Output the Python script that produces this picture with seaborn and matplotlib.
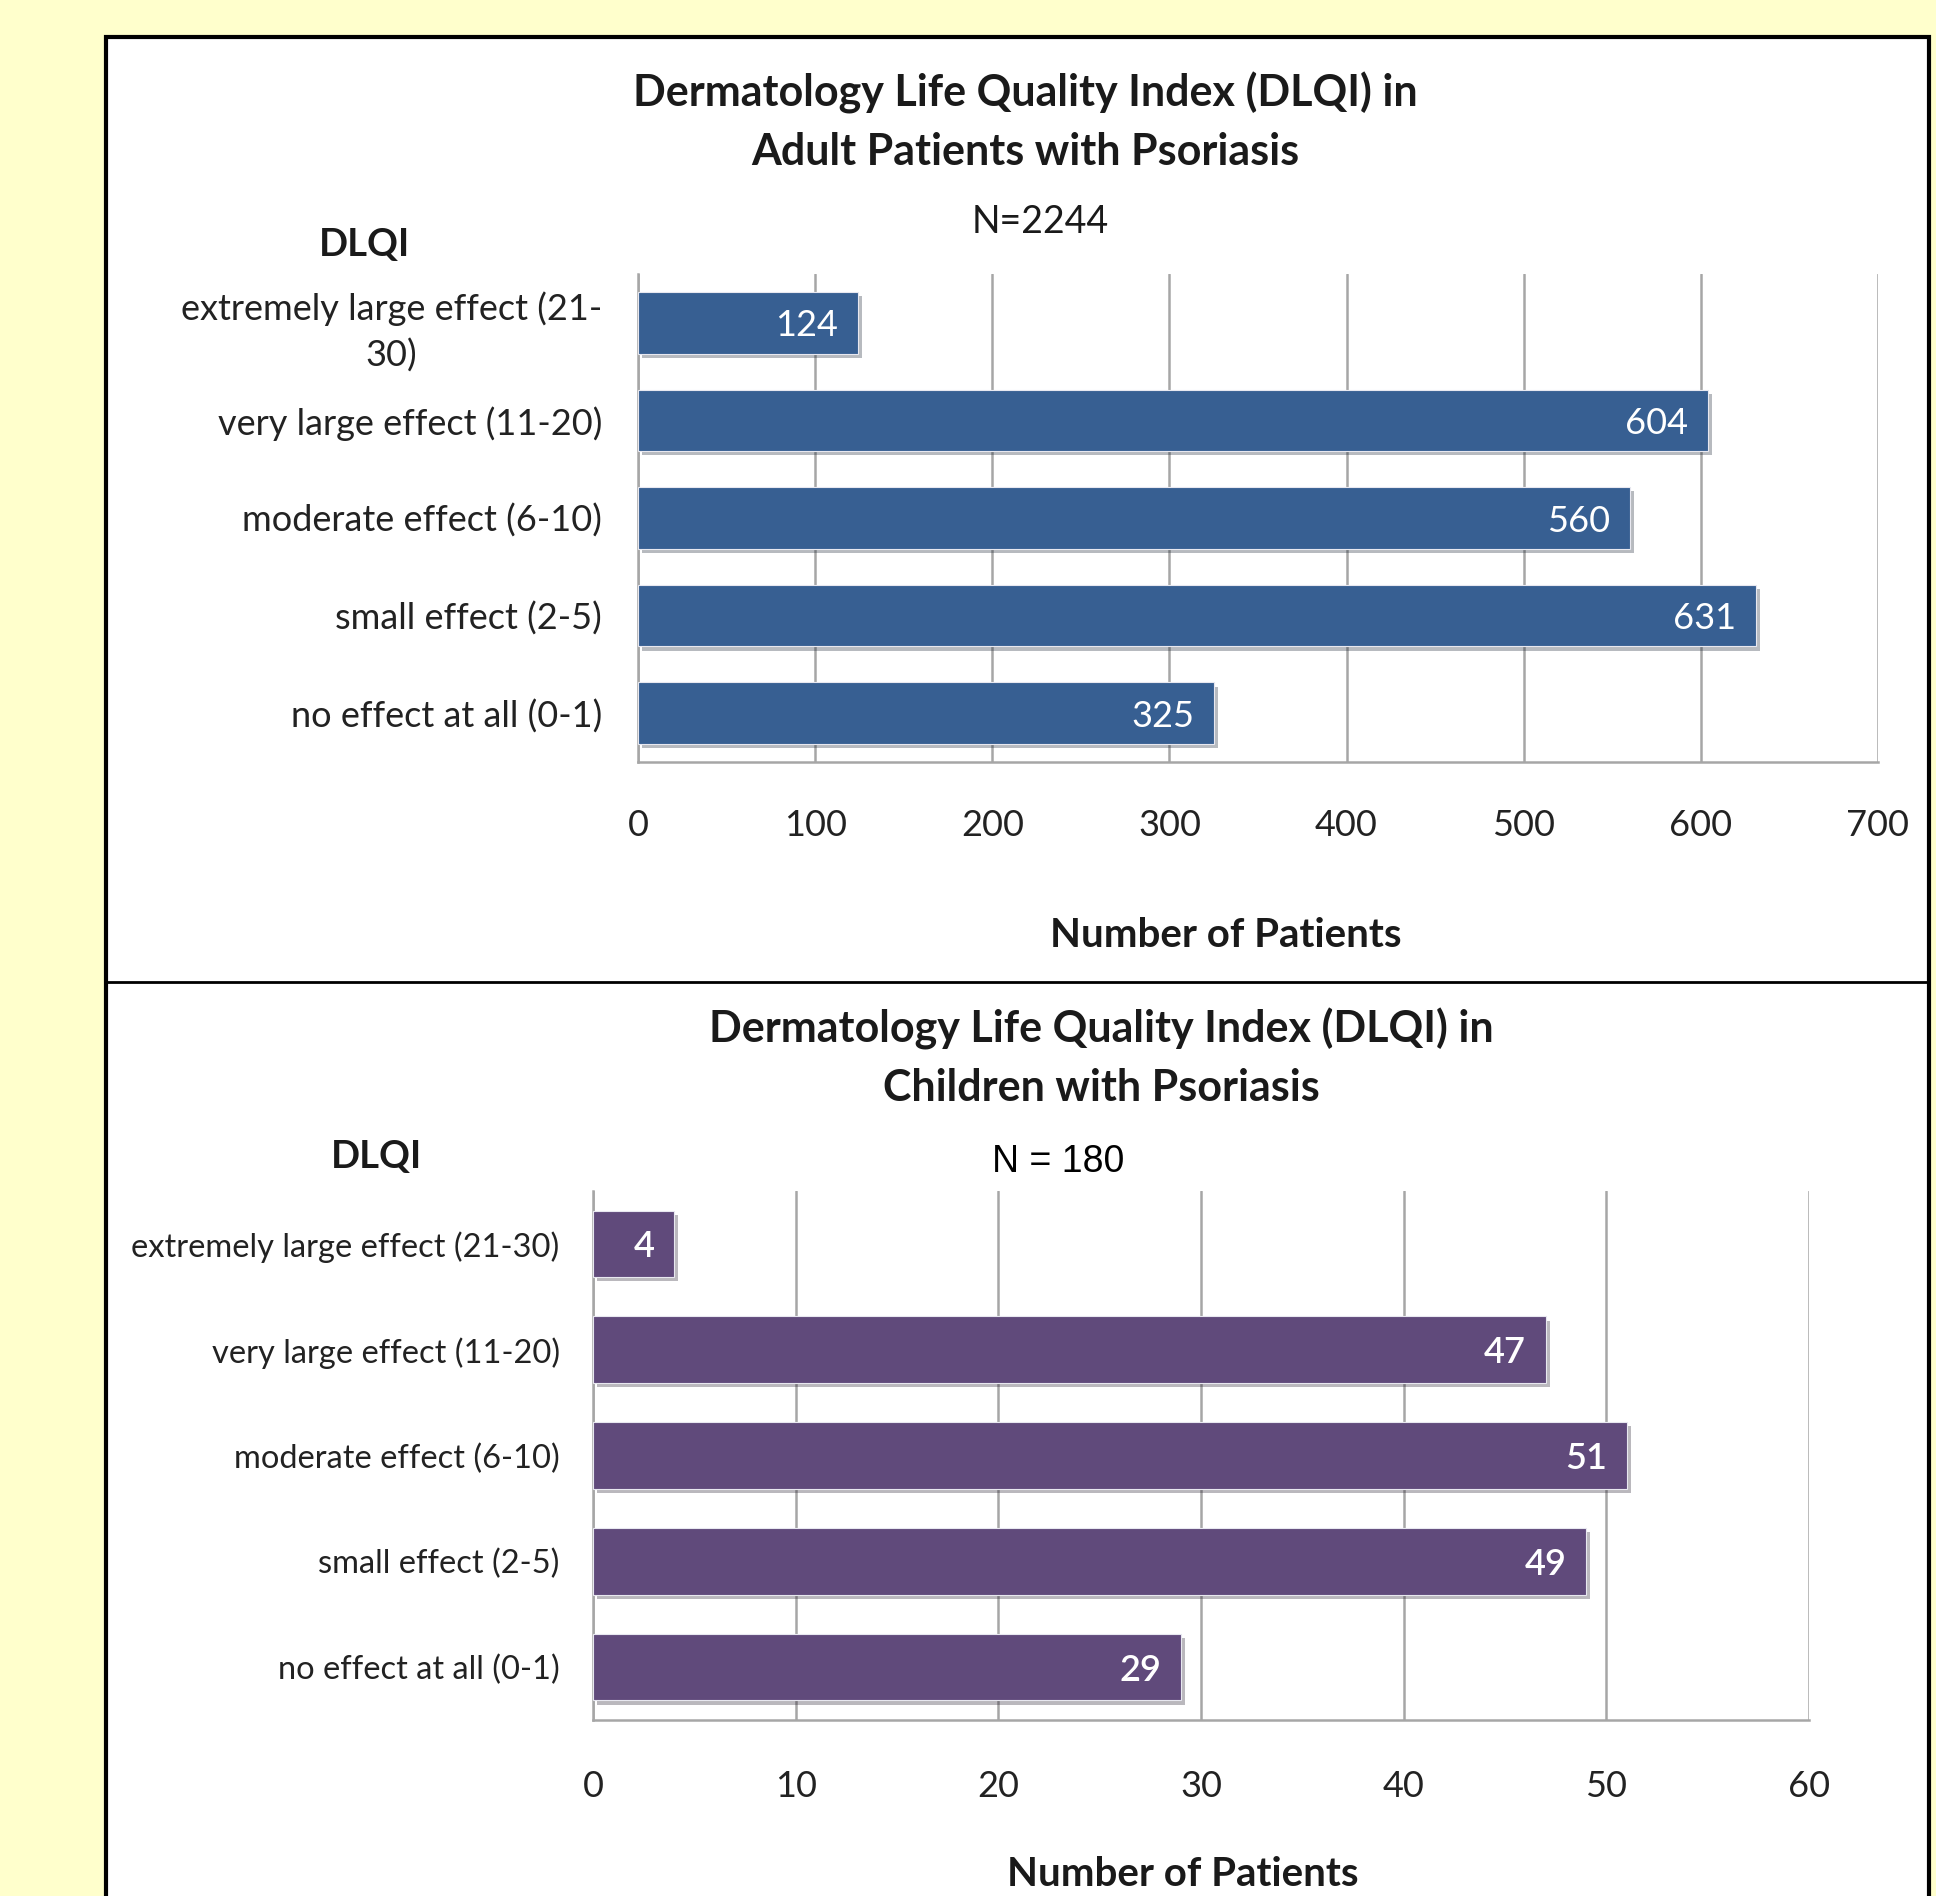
import matplotlib
matplotlib.use("Agg")
import matplotlib.pyplot as plt
import matplotlib.patheffects as pe
from matplotlib.patches import Rectangle
import seaborn as sns

# data
categories_adult = ["extremely large effect (21-\n30)", "very large effect (11-20)",
                    "moderate effect (6-10)", "small effect (2-5)", "no effect at all (0-1)"]
patients_adult = [124, 604, 560, 631, 325]
categories_child = ["extremely large effect (21-30)", "very large effect (11-20)",
                    "moderate effect (6-10)", "small effect (2-5)", "no effect at all (0-1)"]
patients_child = [4, 47, 51, 49, 29]
ticks_adult = [0, 100, 200, 300, 400, 500, 600, 700]
ticks_child = [0, 10, 20, 30, 40, 50, 60]

sns.set_style("white")
plt.rcParams["font.family"] = ["Lato", "DejaVu Sans"]

W, H = 1936, 1896
fig = plt.figure(figsize=(W / 100, H / 100), dpi=100, facecolor="#FFFFCC")


def px_rect(left, top, right, bottom):
    return [left / W, 1 - bottom / H, (right - left) / W, (bottom - top) / H]


# white panel with black frame and divider
fig.patches.append(Rectangle((106 / W, -0.01), (1929 - 106) / W, 1.01 - 37 / H,
                             transform=fig.transFigure, facecolor="white",
                             edgecolor="black", linewidth=3, zorder=-5))
fig.add_artist(plt.Line2D([106 / W, 1929 / W], [1 - 982 / H] * 2,
                          transform=fig.transFigure, color="black", linewidth=2))

shadow = [pe.SimplePatchShadow(offset=(3, -3), alpha=0.3), pe.Normal()]


def draw_panel(rect, cats, vals, ticks, color, ylab_size, xlab_size, val_size,
               ylab_pad, xlab_pad, val_weight):
    ax = fig.add_axes(rect)
    ax.set_facecolor("none")
    sns.barplot(x=vals, y=cats, orient="h", color=color, width=0.63,
                saturation=1, ax=ax, zorder=3)
    for bar in ax.patches:
        bar.set_path_effects(shadow)
        bar.set_edgecolor("#E8E8F0")
        bar.set_linewidth(0.8)
    ax.set_xlim(ticks[0], ticks[-1])
    ax.set_xticks(ticks)
    ax.xaxis.grid(True, color="#A6A6A6", linewidth=1.8, zorder=0)
    ax.set_axisbelow(True)
    for s in ["top", "right"]:
        ax.spines[s].set_visible(False)
    for s in ["left", "bottom"]:
        ax.spines[s].set_color("#A6A6A6")
        ax.spines[s].set_linewidth(1.8)
    ax.tick_params(axis="y", length=0, pad=ylab_pad, labelsize=ylab_size, labelcolor="#222222")
    ax.tick_params(axis="x", length=0, pad=xlab_pad, labelsize=xlab_size, labelcolor="#222222")
    for t in ax.get_yticklabels():
        t.set_multialignment("center")
        t.set_linespacing(1.45)
    ax.set_xlabel("")
    ax.set_ylabel("")
    for bar, v in zip(ax.patches, vals):
        ax.annotate(str(v), (bar.get_width(), bar.get_y() + bar.get_height() / 2),
                    xytext=(-14, 0), textcoords="offset points", ha="right",
                    va="center_baseline", color="white", fontsize=val_size,
                    fontweight=val_weight, zorder=5)
    return ax


draw_panel(px_rect(638, 274, 1878, 762), categories_adult, patients_adult, ticks_adult,
           "#375F92", 26, 26, 26, 26, 34, "normal")
draw_panel(px_rect(593, 1191, 1809, 1720), categories_child, patients_child, ticks_child,
           "#604A7B", 23.5, 26, 26, 24, 36, "semibold")


def ftext(x, y, s, **kw):
    fig.text(x / W, 1 - y / H, s, ha="center", va="center", **kw)


ftext(1025, 122, "Dermatology Life Quality Index (DLQI) in\nAdult Patients with Psoriasis",
      fontsize=31, fontweight="bold", color="#1a1a1a", linespacing=1.55)
ftext(1040, 222, "N=2244", fontsize=27, color="#1a1a1a")
ftext(365, 245, "DLQI", fontsize=27.5, fontweight="bold", color="#1a1a1a")
ftext(1226, 936, "Number of Patients", fontsize=29, fontweight="bold", color="#1a1a1a")

ftext(1101, 1058, "Dermatology Life Quality Index (DLQI) in\nChildren with Psoriasis",
      fontsize=31, fontweight="bold", color="#1a1a1a", linespacing=1.55)
ftext(1058, 1162, "N = 180", fontsize=27, color="black", family="Liberation Sans")
ftext(377, 1157, "DLQI", fontsize=27.5, fontweight="bold", color="#1a1a1a")
ftext(1183, 1875, "Number of Patients", fontsize=29, fontweight="bold", color="#1a1a1a")

fig.savefig("out.png", dpi=100, facecolor=fig.get_facecolor())
